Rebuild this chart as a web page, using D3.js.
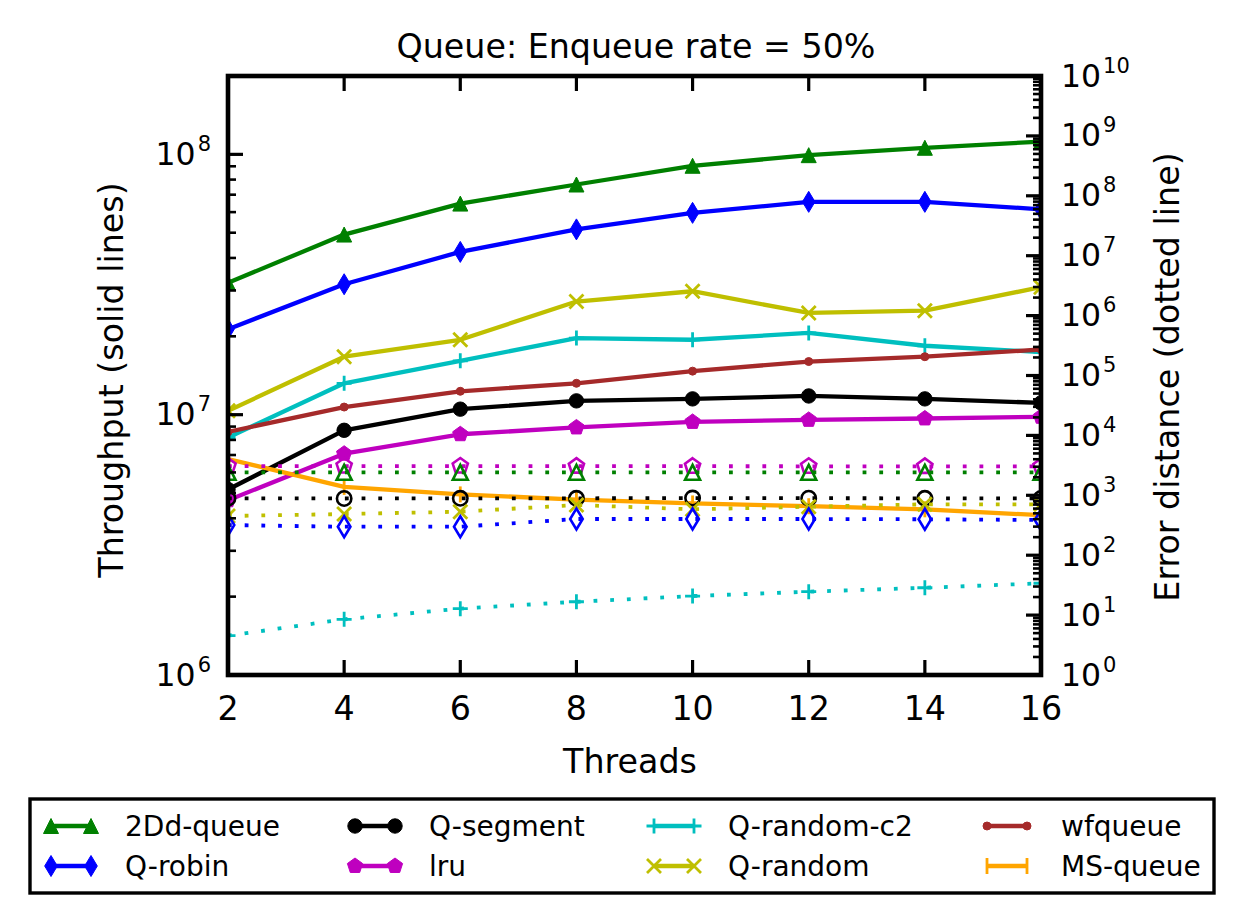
<!DOCTYPE html>
<html>
<head>
<meta charset="utf-8">
<script src="https://cdn.jsdelivr.net/npm/d3@7"></script>
<style>
  html, body { margin: 0; padding: 0; background: #fff; }
  svg { display: block; font-family: "DejaVu Sans", sans-serif; }
</style>
</head>
<body>
<svg id="chart" width="1244" height="924"></svg>
<script>
// ---------------- data ----------------
const threads = [2, 4, 6, 8, 10, 12, 14, 16];
const xTicks = [2, 4, 6, 8, 10, 12, 14, 16];
const leftTickExps = [6, 7, 8];
const rightTickExps = [0, 1, 2, 3, 4, 5, 6, 7, 8, 9, 10];

const seriesNames = ["2Dd-queue", "Q-robin", "Q-segment", "lru", "Q-random-c2", "Q-random", "wfqueue", "MS-queue"];
const seriesColors = ["#008000", "#0000ff", "#000000", "#bf00bf", "#00bfbf", "#bfbf00", "#a52a2a", "#ffa500"];
const seriesMarkers = ["triangle", "thindiamond", "circle", "pentagon", "plus", "x", "point", "vline"];

// Throughput (solid lines, left axis)
const tp2Dd     = [3.21e7, 4.92e7, 6.47e7, 7.66e7, 9.04e7, 9.93e7, 1.06e8, 1.12e8];
const tpRobin   = [2.13e7, 3.17e7, 4.22e7, 5.15e7, 5.96e7, 6.57e7, 6.57e7, 6.15e7];
const tpSegment = [5.16e6, 8.71e6, 1.05e7, 1.13e7, 1.15e7, 1.18e7, 1.15e7, 1.11e7];
const tpLru     = [4.69e6, 7.08e6, 8.41e6, 8.93e6, 9.38e6, 9.55e6, 9.67e6, 9.81e6];
const tpC2      = [8.17e6, 1.32e7, 1.61e7, 1.97e7, 1.94e7, 2.06e7, 1.84e7, 1.74e7];
const tpRandom  = [1.035e7, 1.67e7, 1.94e7, 2.72e7, 2.98e7, 2.46e7, 2.51e7, 3.09e7];
const tpWf      = [8.59e6, 1.07e7, 1.23e7, 1.32e7, 1.47e7, 1.60e7, 1.67e7, 1.78e7];
const tpMs      = [6.75e6, 5.28e6, 4.94e6, 4.72e6, 4.56e6, 4.45e6, 4.33e6, 4.11e6];

// Error distance (dotted lines, right axis)
const errLru     = [3080, 3080, 3080, 3070, 3060, 3050, 3040, 3030];
const err2Dd     = [2420, 2420, 2420, 2420, 2420, 2420, 2420, 2420];
const errSegment = [890, 885, 890, 890, 900, 895, 890, 885];
const errRandom  = [451, 487, 532, 689, 584, 645, 707, 707];
const errRobin   = [319, 299, 299, 402, 402, 402, 398, 387];
const errC2      = [4.53, 8.51, 12.8, 16.7, 20.8, 24.6, 28.6, 34.0];

// ---------------- layout ----------------
const svg = d3.select("#chart");
const L = 228, R = 1041, T = 76, B = 675;
const x = d3.scaleLinear().domain([2, 16]).range([L, R]);
const yL = d3.scaleLog().domain([1e6, 2e8]).range([B, T]);
const yR = d3.scaleLog().domain([1, 1e10]).range([B, T]);

const FS = 33.3, LFS = 28;

function markerPath(type) {
  switch (type) {
    case "triangle": { const h = 7.5; return `M0,${-h}L${h},${h}L${-h},${h}Z`; }
    case "thindiamond": { const r = 10.5, w = 6.3; return `M0,${-r}L${w},0L0,${r}L${-w},0Z`; }
    case "circle": { const r = 7.2; return `M${r},0A${r},${r} 0 1,1 ${-r},0A${r},${r} 0 1,1 ${r},0Z`; }
    case "pentagon": {
      const r = 8; let p = "";
      for (let i = 0; i < 5; i++) {
        const a = -Math.PI / 2 + i * 2 * Math.PI / 5;
        p += (i ? "L" : "M") + (r * Math.cos(a)).toFixed(2) + "," + (r * Math.sin(a)).toFixed(2);
      }
      return p + "Z";
    }
    case "plus": { const h = 7.5; return `M${-h},0L${h},0M0,${-h}L0,${h}`; }
    case "x": { const h = 7; return `M${-h},${-h}L${h},${h}M${-h},${h}L${h},${-h}`; }
    case "point": { const r = 4; return `M${r},0A${r},${r} 0 1,1 ${-r},0A${r},${r} 0 1,1 ${r},0Z`; }
    case "vline": { const h = 8; return `M0,${-h}L0,${h}`; }
  }
}
const strokeOnly = t => (t === "plus" || t === "x" || t === "vline");

function drawMarker(g, type, color, cx, cy, filled) {
  const so = strokeOnly(type);
  g.append("path")
    .attr("d", markerPath(type))
    .attr("transform", `translate(${cx},${cy})`)
    .attr("fill", so ? "none" : (filled ? color : "none"))
    .attr("stroke", color)
    .attr("stroke-width", so ? 2.8 : (filled ? 1 : 2.6))
    .attr("stroke-linejoin", "miter");
}

// clip
svg.append("defs").append("clipPath").attr("id", "plotclip")
  .append("rect").attr("x", L).attr("y", T).attr("width", R - L).attr("height", B - T);

const plot = svg.append("g").attr("clip-path", "url(#plotclip)");

const tpSeries = [tp2Dd, tpRobin, tpSegment, tpLru, tpC2, tpRandom, tpWf, tpMs];
const lineL = d3.line().x((d, i) => x(threads[i])).y(d => yL(d));
const lineR = d3.line().x((d, i) => x(threads[i])).y(d => yR(d));

tpSeries.forEach((vals, k) => {
  const g = plot.append("g");
  g.append("path").attr("d", lineL(vals)).attr("fill", "none")
    .attr("stroke", seriesColors[k]).attr("stroke-width", 4.3).attr("stroke-linejoin", "round");
  vals.forEach((v, i) => drawMarker(g, seriesMarkers[k], seriesColors[k], x(threads[i]), yL(v), true));
});

// dotted (error) series: index into series lists
const errSeries = [
  {vals: errLru, k: 3},
  {vals: err2Dd, k: 0},
  {vals: errSegment, k: 2},
  {vals: errRandom, k: 5},
  {vals: errRobin, k: 1},
  {vals: errC2, k: 4}
];
errSeries.forEach(s => {
  const g = plot.append("g");
  g.append("path").attr("d", lineR(s.vals)).attr("fill", "none")
    .attr("stroke", seriesColors[s.k]).attr("stroke-width", 3.8)
    .attr("stroke-dasharray", "3.8 12.9").attr("stroke-linecap", "butt");
  s.vals.forEach((v, i) => drawMarker(g, seriesMarkers[s.k], seriesColors[s.k], x(threads[i]), yR(v), false));
});

// ---------------- ticks ----------------
const ticks = svg.append("g").attr("stroke", "#000");
xTicks.forEach(t => {
  ticks.append("line").attr("x1", x(t)).attr("x2", x(t)).attr("y1", B).attr("y2", B - 15).attr("stroke-width", 3.2);
  ticks.append("line").attr("x1", x(t)).attr("x2", x(t)).attr("y1", T).attr("y2", T + 15).attr("stroke-width", 3.2);
});
// left axis log ticks
for (let e = 6; e <= 8; e++) {
  for (let m = 1; m <= 9; m++) {
    const v = m * Math.pow(10, e);
    if (v < 1e6 || v > 2e8) continue;
    const major = m === 1;
    ticks.append("line").attr("x1", L).attr("x2", L + (major ? 15 : 8))
      .attr("y1", yL(v)).attr("y2", yL(v)).attr("stroke-width", major ? 3.2 : 2.6);
  }
}
// right axis log ticks
for (let e = 0; e <= 10; e++) {
  for (let m = 1; m <= 9; m++) {
    const v = m * Math.pow(10, e);
    if (v > 1e10) continue;
    const major = m === 1;
    ticks.append("line").attr("x1", R).attr("x2", R - (major ? 15 : 8))
      .attr("y1", yR(v)).attr("y2", yR(v)).attr("stroke-width", major ? 3.2 : 2.6);
  }
}

// frame
svg.append("rect").attr("x", L).attr("y", T).attr("width", R - L).attr("height", B - T)
  .attr("fill", "none").attr("stroke", "#000").attr("stroke-width", 4.6);

// ---------------- tick labels ----------------
const labels = svg.append("g").attr("fill", "#000");
xTicks.forEach(t => {
  labels.append("text").attr("x", x(t)).attr("y", B + 45).attr("text-anchor", "middle")
    .attr("font-size", FS).text(t);
});
function powLabel(g, xx, yy, exp, anchor) {
  const t = g.append("text").attr("x", xx).attr("y", yy).attr("text-anchor", anchor).attr("font-size", 31.5);
  t.append("tspan").text("10");
  t.append("tspan").attr("font-size", 21).attr("dx", 2).attr("dy", -14).text(exp);
}
leftTickExps.forEach(e => powLabel(labels, 211, yL(Math.pow(10, e)) + 10.5, e, "end"));
rightTickExps.forEach(e => powLabel(labels, 1061, yR(Math.pow(10, e)) + 10.5, e, "start"));

// axis titles
svg.append("text").attr("x", 636).attr("y", 58).attr("text-anchor", "middle")
  .attr("font-size", FS).text("Queue: Enqueue rate = 50%");
svg.append("text").attr("x", 630).attr("y", 773).attr("text-anchor", "middle")
  .attr("font-size", FS).text("Threads");
svg.append("text").attr("transform", "translate(123,380) rotate(-90)").attr("text-anchor", "middle")
  .attr("font-size", FS).text("Throughput (solid lines)");
svg.append("text").attr("transform", "translate(1179,377) rotate(-90)").attr("text-anchor", "middle")
  .attr("font-size", FS).text("Error distance (dotted line)");

// ---------------- legend ----------------
const leg = svg.append("g");
leg.append("rect").attr("x", 30).attr("y", 799).attr("width", 1184).attr("height", 94)
  .attr("fill", "#fff").attr("stroke", "#000").attr("stroke-width", 3.4);
const colX = [51, 355, 654, 987];
const rowY = [826, 866];
seriesNames.forEach((name, k) => {
  const c = Math.floor(k / 2), r = k % 2;
  const x0 = colX[c], x1 = x0 + 40, yy = rowY[r];
  const g = leg.append("g");
  g.append("line").attr("x1", x0).attr("x2", x1).attr("y1", yy).attr("y2", yy)
    .attr("stroke", seriesColors[k]).attr("stroke-width", 4.3);
  drawMarker(g, seriesMarkers[k], seriesColors[k], x0, yy, true);
  drawMarker(g, seriesMarkers[k], seriesColors[k], x1, yy, true);
  g.append("text").attr("x", x0 + 74).attr("y", yy + 10).attr("font-size", LFS).text(name);
});
</script>
</body>
</html>
